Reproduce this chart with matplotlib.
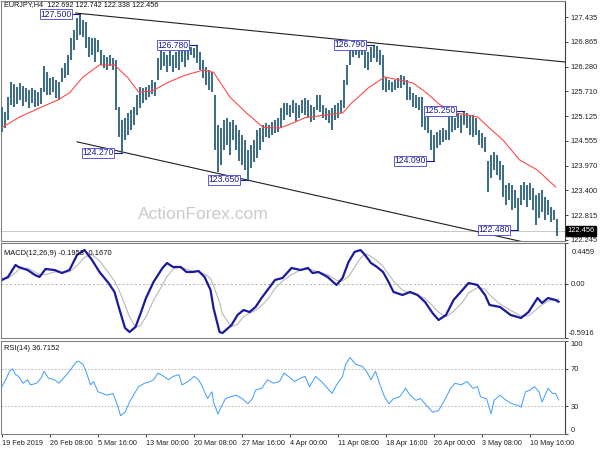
import numpy as np
import matplotlib
matplotlib.use("Agg")
import matplotlib.pyplot as plt

plt.rcParams['font.family'] = ['Liberation Sans', 'DejaVu Sans']

# ---------------- data ----------------
header = "EURJPY,H4  122.692 122.742 122.338 122.456"
last_close = 122.456

highs = [125.34, 125.22, 125.57, 125.92, 125.88, 125.81, 125.90, 125.83, 125.78, 125.74,
         125.78, 125.74, 125.69, 125.78, 126.29, 126.15, 126.02, 126.04, 125.97, 125.92,
         126.25, 126.36, 126.55, 126.95, 127.13, 127.41, 127.50, 127.36, 127.32, 126.97,
         126.95, 126.95, 126.90, 126.67, 126.55, 126.50, 126.55, 126.48, 126.43, 125.34,
         125.04, 125.09, 125.20, 125.27, 125.34, 125.62, 125.81, 125.78, 125.81, 125.85,
         125.97, 125.92, 126.48, 126.67, 126.62, 126.55, 126.67, 126.55, 126.62, 126.67,
         126.74, 126.67, 126.74, 126.74, 126.72, 126.78, 126.62, 126.43, 126.27, 126.20,
         126.15, 125.62, 124.92, 124.85, 125.04, 125.09, 124.99, 125.04, 124.92, 124.81,
         124.69, 124.57, 124.34, 124.46, 124.57, 124.81, 124.85, 124.92, 124.97, 124.92,
         124.99, 125.04, 125.09, 125.32, 125.43, 125.43, 125.39, 125.50, 125.43, 125.39,
         125.50, 125.55, 125.50, 125.39, 125.34, 125.62, 125.62, 125.39, 125.32, 125.27,
         125.32, 125.39, 125.43, 125.50, 125.97, 126.32, 126.70, 126.76, 126.74, 126.75,
         126.74, 126.67, 126.62, 126.74, 126.79, 126.76, 126.67, 126.55, 126.02, 125.97,
         125.92, 125.97, 126.02, 126.08, 126.06, 125.97, 125.81, 125.67, 125.62, 125.57,
         125.57, 125.20, 125.15, 124.81, 124.69, 124.76, 124.81, 124.85, 124.81, 125.15,
         125.20, 125.09, 125.20, 125.15, 125.25, 125.20, 125.15, 125.15, 125.09, 124.81,
         124.73, 124.64, 124.09, 124.22, 124.29, 124.22, 124.09, 123.99, 123.53, 123.57,
         123.53, 123.41, 123.22, 123.53, 123.59, 123.53, 123.57, 123.46, 123.29, 123.34,
         123.41, 123.25, 123.18, 123.01, 122.94, 122.74]

lows = [124.76, 124.85, 125.04, 125.39, 125.34, 125.41, 125.50, 125.36, 125.46, 125.32,
        125.43, 125.34, 125.36, 125.41, 125.69, 125.62, 125.62, 125.69, 125.55, 125.50,
        125.92, 126.02, 126.08, 126.43, 126.67, 126.90, 127.02, 126.97, 126.71, 126.50,
        126.55, 126.39, 126.62, 126.32, 126.25, 126.20, 126.29, 126.20, 125.27, 124.64,
        124.27, 124.57, 124.69, 124.81, 124.92, 125.15, 125.32, 125.43, 125.50, 125.57,
        125.64, 125.60, 125.97, 126.20, 126.29, 126.15, 126.29, 126.15, 126.25, 126.20,
        126.39, 126.27, 126.43, 126.55, 126.48, 126.36, 126.20, 126.02, 125.85, 125.74,
        125.69, 124.34, 123.83, 123.99, 124.34, 124.46, 124.22, 124.57, 124.34, 124.09,
        123.99, 123.87, 123.65, 123.92, 124.06, 124.15, 124.34, 124.53, 124.64, 124.62,
        124.69, 124.73, 124.76, 124.85, 125.04, 125.15, 125.11, 125.20, 124.99, 125.09,
        125.20, 125.15, 125.11, 124.99, 125.04, 125.27, 125.22, 125.09, 125.04, 124.97,
        124.81, 125.04, 125.09, 125.20, 125.32, 125.85, 126.32, 126.50, 126.55, 126.48,
        126.55, 126.25, 126.20, 126.39, 126.48, 126.39, 126.32, 125.74, 125.69, 125.74,
        125.69, 125.74, 125.78, 125.78, 125.85, 125.50, 125.50, 125.34, 125.32, 125.27,
        124.87, 124.81, 124.73, 124.34, 124.09, 124.39, 124.46, 124.53, 124.57, 124.57,
        124.76, 124.81, 124.85, 124.73, 124.92, 124.85, 124.69, 124.64, 124.69, 124.46,
        124.39, 124.29, 123.36, 123.69, 123.87, 123.76, 123.65, 123.25, 123.06, 123.18,
        122.94, 122.99, 122.48, 123.06, 123.18, 123.01, 123.18, 122.94, 122.59, 122.76,
        122.90, 122.71, 122.83, 122.66, 122.71, 122.34]

# moving average (H4 bar index, price)
ma_t = [0, 12, 25, 37, 45, 54, 65, 75, 84, 91, 100, 111, 122, 129, 134, 141, 152, 163,
        174, 185, 192, 202, 215, 227, 233, 244, 255, 265, 274, 283, 292, 303, 317, 325,
        334, 345, 357, 369]
ma_v = [124.87, 125.11, 125.32, 125.50, 125.67, 126.04, 126.32, 126.32, 126.02, 125.69,
        125.71, 125.92, 126.08, 126.15, 126.20, 126.15, 125.57, 125.20, 124.87, 124.85,
        124.94, 125.09, 125.15, 125.20, 125.43, 125.78, 126.04, 125.97, 125.90, 125.67,
        125.39, 125.20, 125.11, 124.85, 124.57, 124.11, 123.87, 123.48]

# trend lines
upper_t = [49, 375]
upper_v = [127.53, 126.39]
lower_t = [50, 360]
lower_v = [124.53, 122.10]

# swing labels
label_t = [52, 80, 130, 164, 248, 288, 308, 344]
label_v = [127.500, 124.270, 126.780, 123.650, 126.790, 124.090, 125.250, 122.480]

price_ticks = [127.435, 126.865, 126.280, 125.710, 125.125, 124.555,
               123.970, 123.400, 122.815, 122.245]

# MACD
macd_t = [0, 4, 9, 11, 17, 22, 25, 29, 35, 40, 45, 50, 55, 60, 65, 71, 75, 78, 82, 85,
          89, 92, 96, 101, 107, 110, 114, 119, 123, 127, 131, 135, 139, 141, 145, 147,
          153, 157, 161, 165, 169, 173, 178, 182, 187, 193, 199, 204, 207, 211, 217, 223,
          227, 231, 235, 239, 242, 246, 250, 254, 257, 261, 267, 272, 277, 282, 287, 291,
          296, 301, 307, 311, 317, 322, 325, 332, 339, 346, 351, 357, 360, 364, 369, 371]
macd_v = [0.042, 0.075, 0.206, 0.184, 0.151, 0.096, 0.075, 0.162, 0.151, 0.118, 0.151,
          0.315, 0.369, 0.260, 0.129, 0.009, -0.089, -0.264, -0.482, -0.526, -0.471,
          -0.340, -0.155, 0.020, 0.173, 0.227, 0.184, 0.184, 0.129, 0.129, 0.140, 0.075,
          -0.067, -0.264, -0.526, -0.537, -0.450, -0.340, -0.286, -0.308, -0.253, -0.155,
          -0.046, 0.042, 0.064, 0.173, 0.151, 0.173, 0.118, 0.129, 0.075, -0.013, 0.064,
          0.238, 0.348, 0.369, 0.315, 0.227, 0.184, 0.129, 0.042, -0.089, -0.122, -0.089,
          -0.122, -0.198, -0.319, -0.395, -0.340, -0.177, -0.067, 0.009, -0.013, -0.122,
          -0.231, -0.253, -0.340, -0.373, -0.308, -0.155, -0.209, -0.155, -0.177, -0.195]
signal_v = [0.06, 0.06, 0.12, 0.16, 0.17, 0.13, 0.10, 0.10, 0.13, 0.13, 0.13, 0.20, 0.29,
            0.32, 0.25, 0.12, 0.03, -0.07, -0.23, -0.36, -0.47, -0.46, -0.36, -0.18, -0.01,
            0.08, 0.16, 0.19, 0.16, 0.14, 0.13, 0.11, 0.06, -0.02, -0.20, -0.33, -0.47,
            -0.44, -0.36, -0.32, -0.29, -0.24, -0.15, -0.05, 0.03, 0.10, 0.15, 0.16, 0.15,
            0.13, 0.10, 0.04, 0.03, 0.08, 0.18, 0.28, 0.33, 0.30, 0.25, 0.19, 0.12, 0.03,
            -0.07, -0.10, -0.12, -0.16, -0.24, -0.31, -0.36, -0.30, -0.20, -0.10, -0.04,
            -0.06, -0.12, -0.22, -0.29, -0.35, -0.35, -0.27, -0.23, -0.19, -0.17, -0.167]
macd_label = "MACD(12,26,9) -0.1953 -0.1670"
macd_top, macd_bottom = 0.4459, -0.5916

# RSI
rsi_t = [0, 3, 5, 7, 9, 11, 14, 17, 19, 23, 26, 28, 31, 35, 38, 41, 45, 49, 51, 54, 56,
         59, 61, 64, 67, 70, 74, 77, 79, 82, 85, 87, 91, 95, 99, 101, 104, 108, 111, 114,
         118, 120, 124, 128, 131, 133, 137, 140, 141, 144, 146, 149, 152, 156, 160, 164,
         167, 169, 173, 177, 181, 185, 188, 191, 195, 199, 202, 205, 209, 213, 217, 220,
         223, 227, 229, 232, 236, 240, 243, 246, 249, 252, 255, 258, 261, 265, 269, 272,
         276, 279, 283, 287, 291, 295, 299, 302, 306, 310, 314, 317, 319, 323, 326, 328,
         332, 336, 340, 344, 346, 349, 352, 355, 358, 360, 364, 367, 369, 371]
rsi_v = [50.9, 60.1, 67.4, 70.0, 63.8, 62.0, 54.6, 58.3, 52.8, 54.6, 60.1, 67.4, 60.1,
         58.3, 54.6, 60.1, 67.4, 76.6, 78.4, 74.8, 67.4, 52.8, 56.4, 45.4, 43.6, 41.7,
         43.6, 30.7, 19.7, 23.4, 34.4, 39.9, 50.9, 54.6, 56.4, 58.3, 65.6, 61.9, 58.3,
         61.9, 63.8, 52.8, 56.4, 61.9, 58.3, 52.8, 38.1, 45.4, 34.4, 21.6, 28.9, 38.1,
         39.9, 41.7, 38.1, 32.6, 38.1, 47.2, 49.1, 58.3, 54.6, 56.4, 65.6, 61.9, 56.4,
         60.1, 61.9, 50.9, 61.9, 56.4, 49.1, 43.6, 52.8, 61.9, 74.8, 82.1, 74.8, 72.9,
         67.4, 58.3, 67.4, 52.8, 39.9, 32.6, 38.1, 39.9, 49.1, 41.7, 36.2, 38.1, 30.7,
         23.4, 25.2, 36.2, 49.1, 54.6, 52.8, 56.4, 49.1, 50.9, 39.9, 38.1, 21.6, 36.2,
         41.7, 36.2, 32.6, 30.7, 28.9, 45.4, 47.2, 50.9, 45.4, 34.4, 49.1, 43.6, 43.6, 36.7]
rsi_label = "RSI(14) 36.7152"
rsi_levels = [70, 30]

date_t = [0, 32, 64, 96, 128, 160, 192, 224, 256, 288, 320, 352]
date_labels = ["19 Feb 2019", "26 Feb 08:00", "5 Mar 16:00", "13 Mar 00:00",
               "20 Mar 08:00", "27 Mar 16:00", "4 Apr 00:00", "11 Apr 08:00",
               "18 Apr 16:00", "26 Apr 00:00", "3 May 08:00", "10 May 16:00"]

# ---------------- drawing ----------------
W, H = 600, 450
fig = plt.figure(figsize=(6, 4.5), dpi=100)
fig.patch.set_facecolor('white')


def rect(x0, y0, x1, y1):
    return [x0 / W, 1 - y1 / H, (x1 - x0) / W, (y1 - y0) / H]


ax1 = fig.add_axes(rect(1, 1, 565, 241))
ax2 = fig.add_axes(rect(1, 243, 565, 338))
ax3 = fig.add_axes(rect(1, 341, 565, 434))

XMIN, XMAX = -0.67, 375.3
FS = 5.4
frame_c = '#808080'
txt_c = '#202020'

for ax in (ax1, ax2, ax3):
    ax.set_xlim(XMIN, XMAX)
    ax.set_facecolor('white')
    for s in ax.spines.values():
        s.set_color(frame_c)
        s.set_linewidth(0.8)
    ax.spines['right'].set_color('#404040')
    ax.yaxis.tick_right()
    ax.tick_params(axis='y', length=2.5, width=0.6, labelsize=FS, pad=1.5,
                   colors=txt_c)
    ax.tick_params(axis='x', length=0, labelbottom=False)

# main panel
bar_t = np.arange(len(highs)) * 2
ax1.set_ylim(122.22, 127.81)
ax1.axhline(last_close, color='#c8c8c8', lw=0.7, zorder=1)
ax1.vlines(bar_t, lows, highs, color='#3f6f86', lw=1.45, zorder=3)
ax1.plot(ma_t, ma_v, color='#ff4a4a', lw=0.8, zorder=4)
ax1.plot(upper_t, upper_v, color='#202020', lw=0.8, zorder=2)
ax1.plot(lower_t, lower_v, color='#202020', lw=0.8, zorder=2)

for t, v in zip(label_t, label_v):
    ax1.plot([t - 4.5, t], [v, v], color='#1c1c8c', lw=0.8, zorder=5)
    ax1.annotate(f"{v:.3f}", xy=(t - 4.5, v), xytext=(-1.0, 0),
                 textcoords='offset points', ha='right', va='center',
                 fontsize=6.2, color='#1c1c8c', zorder=6,
                 bbox=dict(boxstyle='square,pad=0.06', fc='white',
                           ec='#5a5ad0', lw=0.7))

ax1.set_yticks(price_ticks)
ax1.set_yticklabels([f"{v:.3f}" for v in price_ticks])
ax1.text(0.006, 1.0, header, transform=ax1.transAxes, ha='left', va='top',
         fontsize=5.2, color='#101010')
ax1.text(0.358, 0.11, "ActionForex.com", transform=ax1.transAxes,
         ha='center', va='center', fontsize=12.5, color='#cacaca', zorder=0)
ax1.text(1.004, last_close, f"{last_close:.3f}",
         transform=ax1.get_yaxis_transform(), ha='left', va='center',
         fontsize=FS, color='white', zorder=10,
         bbox=dict(boxstyle='square,pad=0.2', fc='black', ec='black'))

# MACD panel
ax2.set_ylim(macd_bottom, macd_top)
ax2.axhline(0, color='#a8a8a8', lw=0.6, ls=(0, (2.5, 2.5)))
ax2.plot(macd_t, signal_v, color='#b8b8b8', lw=0.8)
ax2.plot(macd_t, macd_v, color='#1a1a9e', lw=1.6)
ax2.set_yticks([macd_top, 0.0, macd_bottom])
ax2.set_yticklabels(["", "0.00", ""])
ax2.text(1.012, 0.905, "0.4459", transform=ax2.transAxes, ha='left',
         va='center', fontsize=FS, color=txt_c)
ax2.text(1.006, 0.05, "-0.5916", transform=ax2.transAxes, ha='left',
         va='center', fontsize=FS, color=txt_c)
ax2.text(0.006, 0.93, macd_label, transform=ax2.transAxes, ha='left',
         va='top', fontsize=FS, color='#101010')

# RSI panel
ax3.set_ylim(0, 100)
for lv in rsi_levels:
    ax3.axhline(lv, color='#b0b0b0', lw=0.6, ls=(0, (2, 2)))
ax3.plot(rsi_t, rsi_v, color='#3d9bff', lw=0.7)
ax3.set_yticks([100, 70, 30, 0])
ax3.set_yticklabels(["100", "70", "30", "0"])
tl = ax3.get_yticklabels()
tl[0].set_va('top')
tl[3].set_va('bottom')
ax3.text(0.006, 0.955, rsi_label, transform=ax3.transAxes, ha='left',
         va='top', fontsize=FS, color='#101010')

ax3.set_xticks(date_t)
ax3.set_xticklabels(date_labels)
ax3.tick_params(axis='x', length=2.5, width=0.6, labelbottom=True,
                labelsize=5.2, pad=1.5, colors=txt_c)
for lab in ax3.get_xticklabels():
    lab.set_ha('left')

fig.savefig("out.png", dpi=100, facecolor='white')
